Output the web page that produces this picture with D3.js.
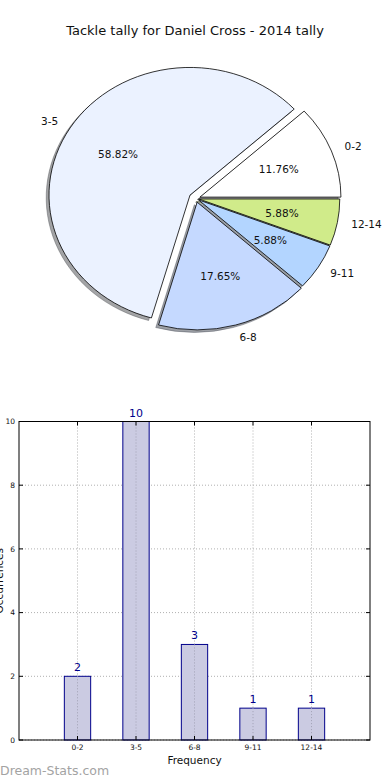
<!DOCTYPE html>
<html>
<head>
<meta charset="utf-8">
<script src="https://cdn.jsdelivr.net/npm/d3@7"></script>
<style>
  html, body { margin: 0; padding: 0; background: #fff; }
  svg { display: block; font-family: "DejaVu Sans", sans-serif; }
</style>
</head>
<body>
<svg id="chart" width="390" height="780"></svg>
<script>
// ---- data ----
const categories = ["0-2", "3-5", "6-8", "9-11", "12-14"];
const counts = [2, 10, 3, 1, 1];
const pieColors = ["#ffffff", "#ebf2ff", "#c5d9ff", "#b3d5ff", "#d0eb8a"];
const explode = [0.03, 0.05, 0.03, 0.02, 0.02];
const yTicks = [0, 2, 4, 6, 8, 10];
const titleText = "Tackle tally for Daniel Cross - 2014 tally";
const xLabelText = "Frequency";
const yLabelText = "Occurrences";
const watermark = "Dream-Stats.com";

(function () {
const svg = d3.select("#chart");

// ---- title ----
svg.append("text").attr("x", 195).attr("y", 35).attr("text-anchor", "middle")
  .attr("font-size", 13).attr("fill", "#111").text(titleText);

// ---- pie ----
const cx = 196, cy = 198.5, rx = 141, ry = 127.7;
const sy = ry / rx;
const total = d3.sum(counts);
const pie = d3.pie().sort(null).startAngle(Math.PI / 2).endAngle(Math.PI / 2 - 2 * Math.PI);
const arcs = pie(counts);
const arc = d3.arc().innerRadius(0).outerRadius(rx);
const pieG = svg.append("g");

function offset(d, f) {
  const a = (d.startAngle + d.endAngle) / 2;
  return [Math.sin(a) * rx * f, -Math.cos(a) * rx * f * sy];
}
function darken(c) {
  const col = d3.rgb(c);
  return d3.rgb(col.r * 0.3, col.g * 0.3, col.b * 0.3).toString();
}
// shadows
arcs.forEach((d, i) => {
  const [ox, oy] = offset(d, explode[i]);
  pieG.append("path")
    .attr("d", arc(d))
    .attr("transform", `translate(${cx + ox - 2.8},${cy + oy + 2.55}) scale(1,${sy})`)
    .attr("fill", darken(pieColors[i])).attr("fill-opacity", 0.5)
    .attr("stroke", darken(pieColors[i])).attr("stroke-opacity", 0.5)
    .attr("stroke-width", 0.8).attr("vector-effect", "non-scaling-stroke");
});
// wedges
arcs.forEach((d, i) => {
  const [ox, oy] = offset(d, explode[i]);
  pieG.append("path")
    .attr("d", arc(d))
    .attr("transform", `translate(${cx + ox},${cy + oy}) scale(1,${sy})`)
    .attr("fill", pieColors[i]).attr("stroke", "#000")
    .attr("stroke-width", 0.8).attr("stroke-linejoin", "miter")
    .attr("vector-effect", "non-scaling-stroke");
});
// labels
arcs.forEach((d, i) => {
  const [ox, oy] = offset(d, explode[i]);
  const [lx, ly] = offset(d, 1.1);
  const [px, py] = offset(d, 0.6);
  pieG.append("text")
    .attr("x", cx + ox + lx).attr("y", cy + oy + ly).attr("dy", "0.35em")
    .attr("text-anchor", lx > 0 ? "start" : "end")
    .attr("font-size", 10.5).attr("fill", "#111").text(categories[i]);
  pieG.append("text")
    .attr("x", cx + ox + px).attr("y", cy + oy + py).attr("dy", "0.35em")
    .attr("text-anchor", "middle")
    .attr("font-size", 10.5).attr("fill", "#111")
    .text((counts[i] / total * 100).toFixed(2) + "%");
});

// ---- bar chart ----
const pl = 19, pr = 370, pt = 421.5, pb = 740;
const x = d3.scaleLinear().domain([0, categories.length + 1]).range([pl, pr]);
const y = d3.scaleLinear().domain([0, 10]).range([pb, pt]);
const barW = x(0.45) - x(0);
const g = svg.append("g");

// grid
g.selectAll(".gx").data(categories).enter().append("line")
  .attr("x1", (d, i) => x(i + 1)).attr("x2", (d, i) => x(i + 1))
  .attr("y1", pt).attr("y2", pb)
  .attr("stroke", "#b0b0b0").attr("stroke-dasharray", "1,2");
g.selectAll(".gy").data(yTicks).enter().append("line")
  .attr("x1", pl).attr("x2", pr)
  .attr("y1", d => y(d)).attr("y2", d => y(d))
  .attr("stroke", "#b0b0b0").attr("stroke-dasharray", "1,2");

// bars
g.selectAll(".bar").data(counts).enter().append("rect")
  .attr("x", (d, i) => x(i + 1) - barW / 2)
  .attr("y", d => y(d))
  .attr("width", barW)
  .attr("height", d => pb - y(d))
  .attr("fill", "#cbcbe2").attr("stroke", "#00008b").attr("stroke-width", 1);
// grid over bars
g.selectAll(".gx2").data(categories).enter().append("line")
  .attr("x1", (d, i) => x(i + 1)).attr("x2", (d, i) => x(i + 1))
  .attr("y1", (d, i) => y(counts[i])).attr("y2", pb)
  .attr("stroke", "#a0a0b4").attr("stroke-dasharray", "1,2");

// value labels
g.selectAll(".val").data(counts).enter().append("text")
  .attr("x", (d, i) => x(i + 1)).attr("y", d => y(d) - 5)
  .attr("text-anchor", "middle").attr("font-size", 11).attr("fill", "#00008b")
  .text(d => d);

// frame
g.append("rect").attr("x", pl).attr("y", pt).attr("width", pr - pl).attr("height", pb - pt)
  .attr("fill", "none").attr("stroke", "#000").attr("stroke-width", 1);

// ticks (inward, both sides)
yTicks.forEach(t => {
  g.append("line").attr("x1", pl).attr("x2", pl + 4).attr("y1", y(t)).attr("y2", y(t)).attr("stroke", "#000");
  g.append("line").attr("x1", pr).attr("x2", pr - 4).attr("y1", y(t)).attr("y2", y(t)).attr("stroke", "#000");
  g.append("text").attr("x", pl - 4).attr("y", y(t)).attr("dy", "0.35em")
    .attr("text-anchor", "end").attr("font-size", 7.5).attr("fill", "#111").text(t);
});
categories.forEach((c, i) => {
  g.append("line").attr("x1", x(i + 1)).attr("x2", x(i + 1)).attr("y1", pb).attr("y2", pb - 4).attr("stroke", "#000");
  g.append("line").attr("x1", x(i + 1)).attr("x2", x(i + 1)).attr("y1", pt).attr("y2", pt + 4).attr("stroke", "#000");
  g.append("text").attr("x", x(i + 1)).attr("y", pb + 10)
    .attr("text-anchor", "middle").attr("font-size", 7.5).attr("fill", "#111").text(c);
});

// axis labels
g.append("text").attr("x", (pl + pr) / 2).attr("y", 764).attr("text-anchor", "middle")
  .attr("font-size", 10.5).attr("fill", "#111").text(xLabelText);
g.append("text").attr("transform", `translate(3,${(pt + pb) / 2}) rotate(-90)`)
  .attr("text-anchor", "middle").attr("font-size", 10.5).attr("fill", "#111").text(yLabelText);

// watermark
svg.append("text").attr("x", 0).attr("y", 775).attr("font-size", 12.5)
  .attr("fill", "#a3a3a3").text(watermark);
})();
</script>
</body>
</html>
